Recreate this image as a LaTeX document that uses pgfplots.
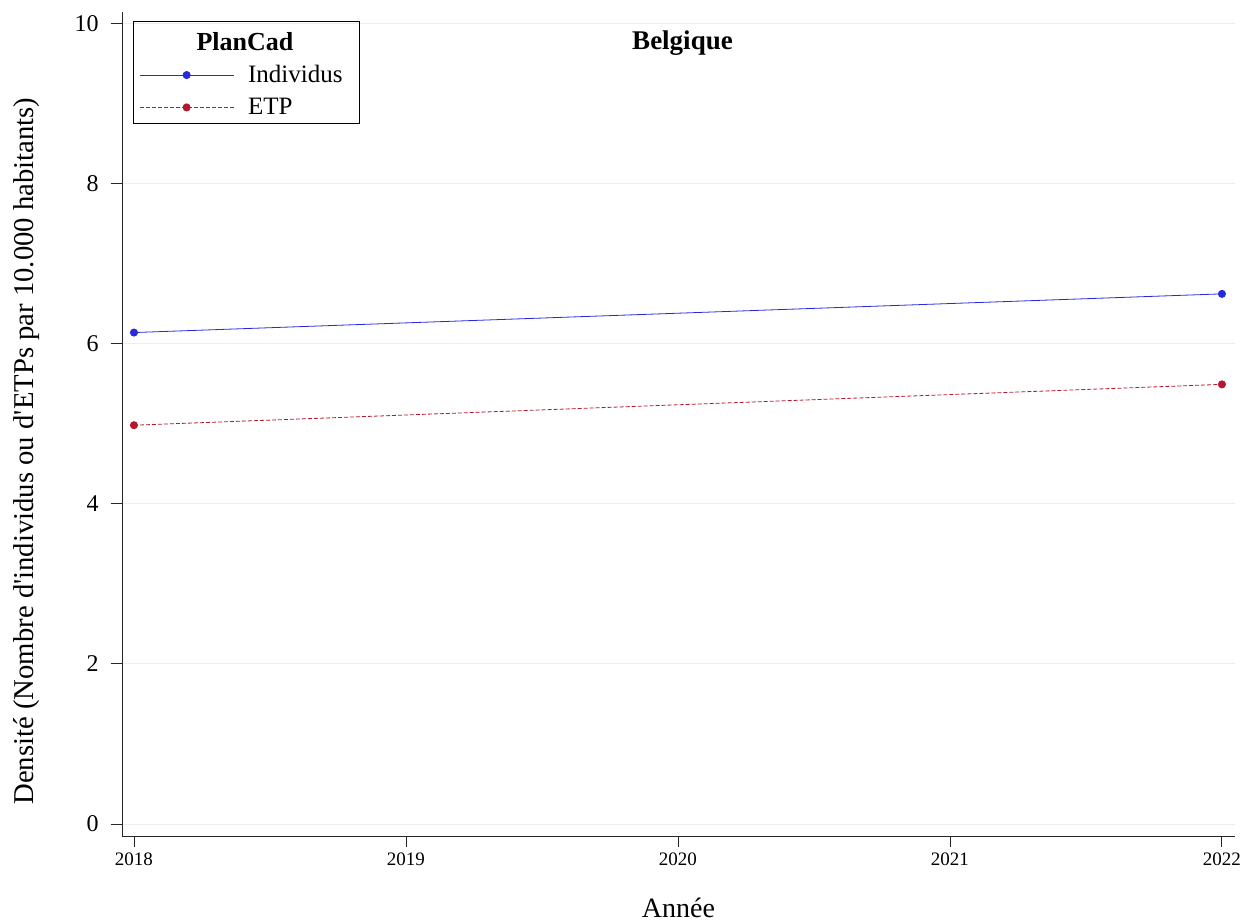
\documentclass[border=0pt]{standalone}
\usepackage{pgfplots}
\pgfplotsset{compat=1.18}
\usepackage{fontspec}
\setmainfont{Liberation Serif}
\definecolor{lineblue}{RGB}{40,40,220}
\definecolor{linered}{RGB}{180,24,44}
\begin{document}
\begin{tikzpicture}
\path[use as bounding box] (0,0) rectangle (1246pt,922pt);
\begin{axis}[
  at={(122pt,86pt)}, anchor=south west,
  scale only axis, width=1113pt, height=824pt,
  xmin=2017.956, xmax=2022.048,
  ymin=-0.15, ymax=10.14,
  axis x line*=bottom, axis y line*=left,
  axis line style={-, line width=0.9pt, black!85},
  xtick={2018,2019,2020,2021,2022},
  ytick={0,2,4,6,8,10},
  xticklabels={2018,2019,2020,2021,2022},
  tick align=outside,
  major tick length=11pt,
  tick style={line width=0.9pt, black!85},
  ymajorgrids,
  grid style={line width=0.8pt, black!7},
  yticklabel style={font=\fontsize{24}{28}\selectfont, xshift=-9pt},
  xticklabel style={font=\fontsize{19}{22}\selectfont, yshift=-2pt},
  /pgf/number format/assume math mode=true,
  /pgf/number format/1000 sep={},
  xlabel={Année},
  ylabel={Densité (Nombre d\textquotesingle individus ou d\textquotesingle ETPs par 10.000 habitants)},
  xlabel style={font=\fontsize{28}{32}\selectfont, at={(axis description cs:0.5,0)}, anchor=base, yshift=-81pt},
  ylabel style={font=\fontsize{28.7}{32}\selectfont, at={(axis description cs:0,0.5)}, anchor=base, yshift=88pt, xshift=-27pt},
  title={\bfseries Belgique},
  title style={font=\fontsize{27}{32}\selectfont, at={(axis description cs:0.5,1)}, anchor=north, yshift=-21pt, xshift=4pt},
  legend style={at={(axis description cs:0.0135,0.940)}, anchor=north west, draw=none, fill=none,
    font=\fontsize{25}{30}\selectfont, row sep=10pt, inner sep=2pt,
    nodes={inner sep=2pt, anchor=west}},
  legend cell align=left,
  legend image code/.code={\draw[mark repeat=2,mark phase=2,#1] plot coordinates {(0pt,0pt) (47pt,0pt) (94pt,0pt)};\path (106pt,0pt);},
]
\addplot[color=lineblue, line width=0.8pt, mark=*, mark size=3.6pt, mark options={solid, fill=lineblue, draw=lineblue}]
  coordinates {(2018,6.137) (2022,6.62)};
\addlegendentry{Individus}
\addplot[color=linered, line width=0.8pt, dash pattern=on 4pt off 2pt, mark=*, mark size=3.6pt, mark options={solid, fill=linered, draw=linered}]
  coordinates {(2018,4.98) (2022,5.49)};
\addlegendentry{ETP}
\end{axis}
\draw[line width=0.9pt, black] (133pt,799pt) rectangle (359pt,901pt);
\node[font=\fontsize{26}{30}\selectfont\bfseries, anchor=base] at (245pt,871pt) {PlanCad};
\end{tikzpicture}
\end{document}
